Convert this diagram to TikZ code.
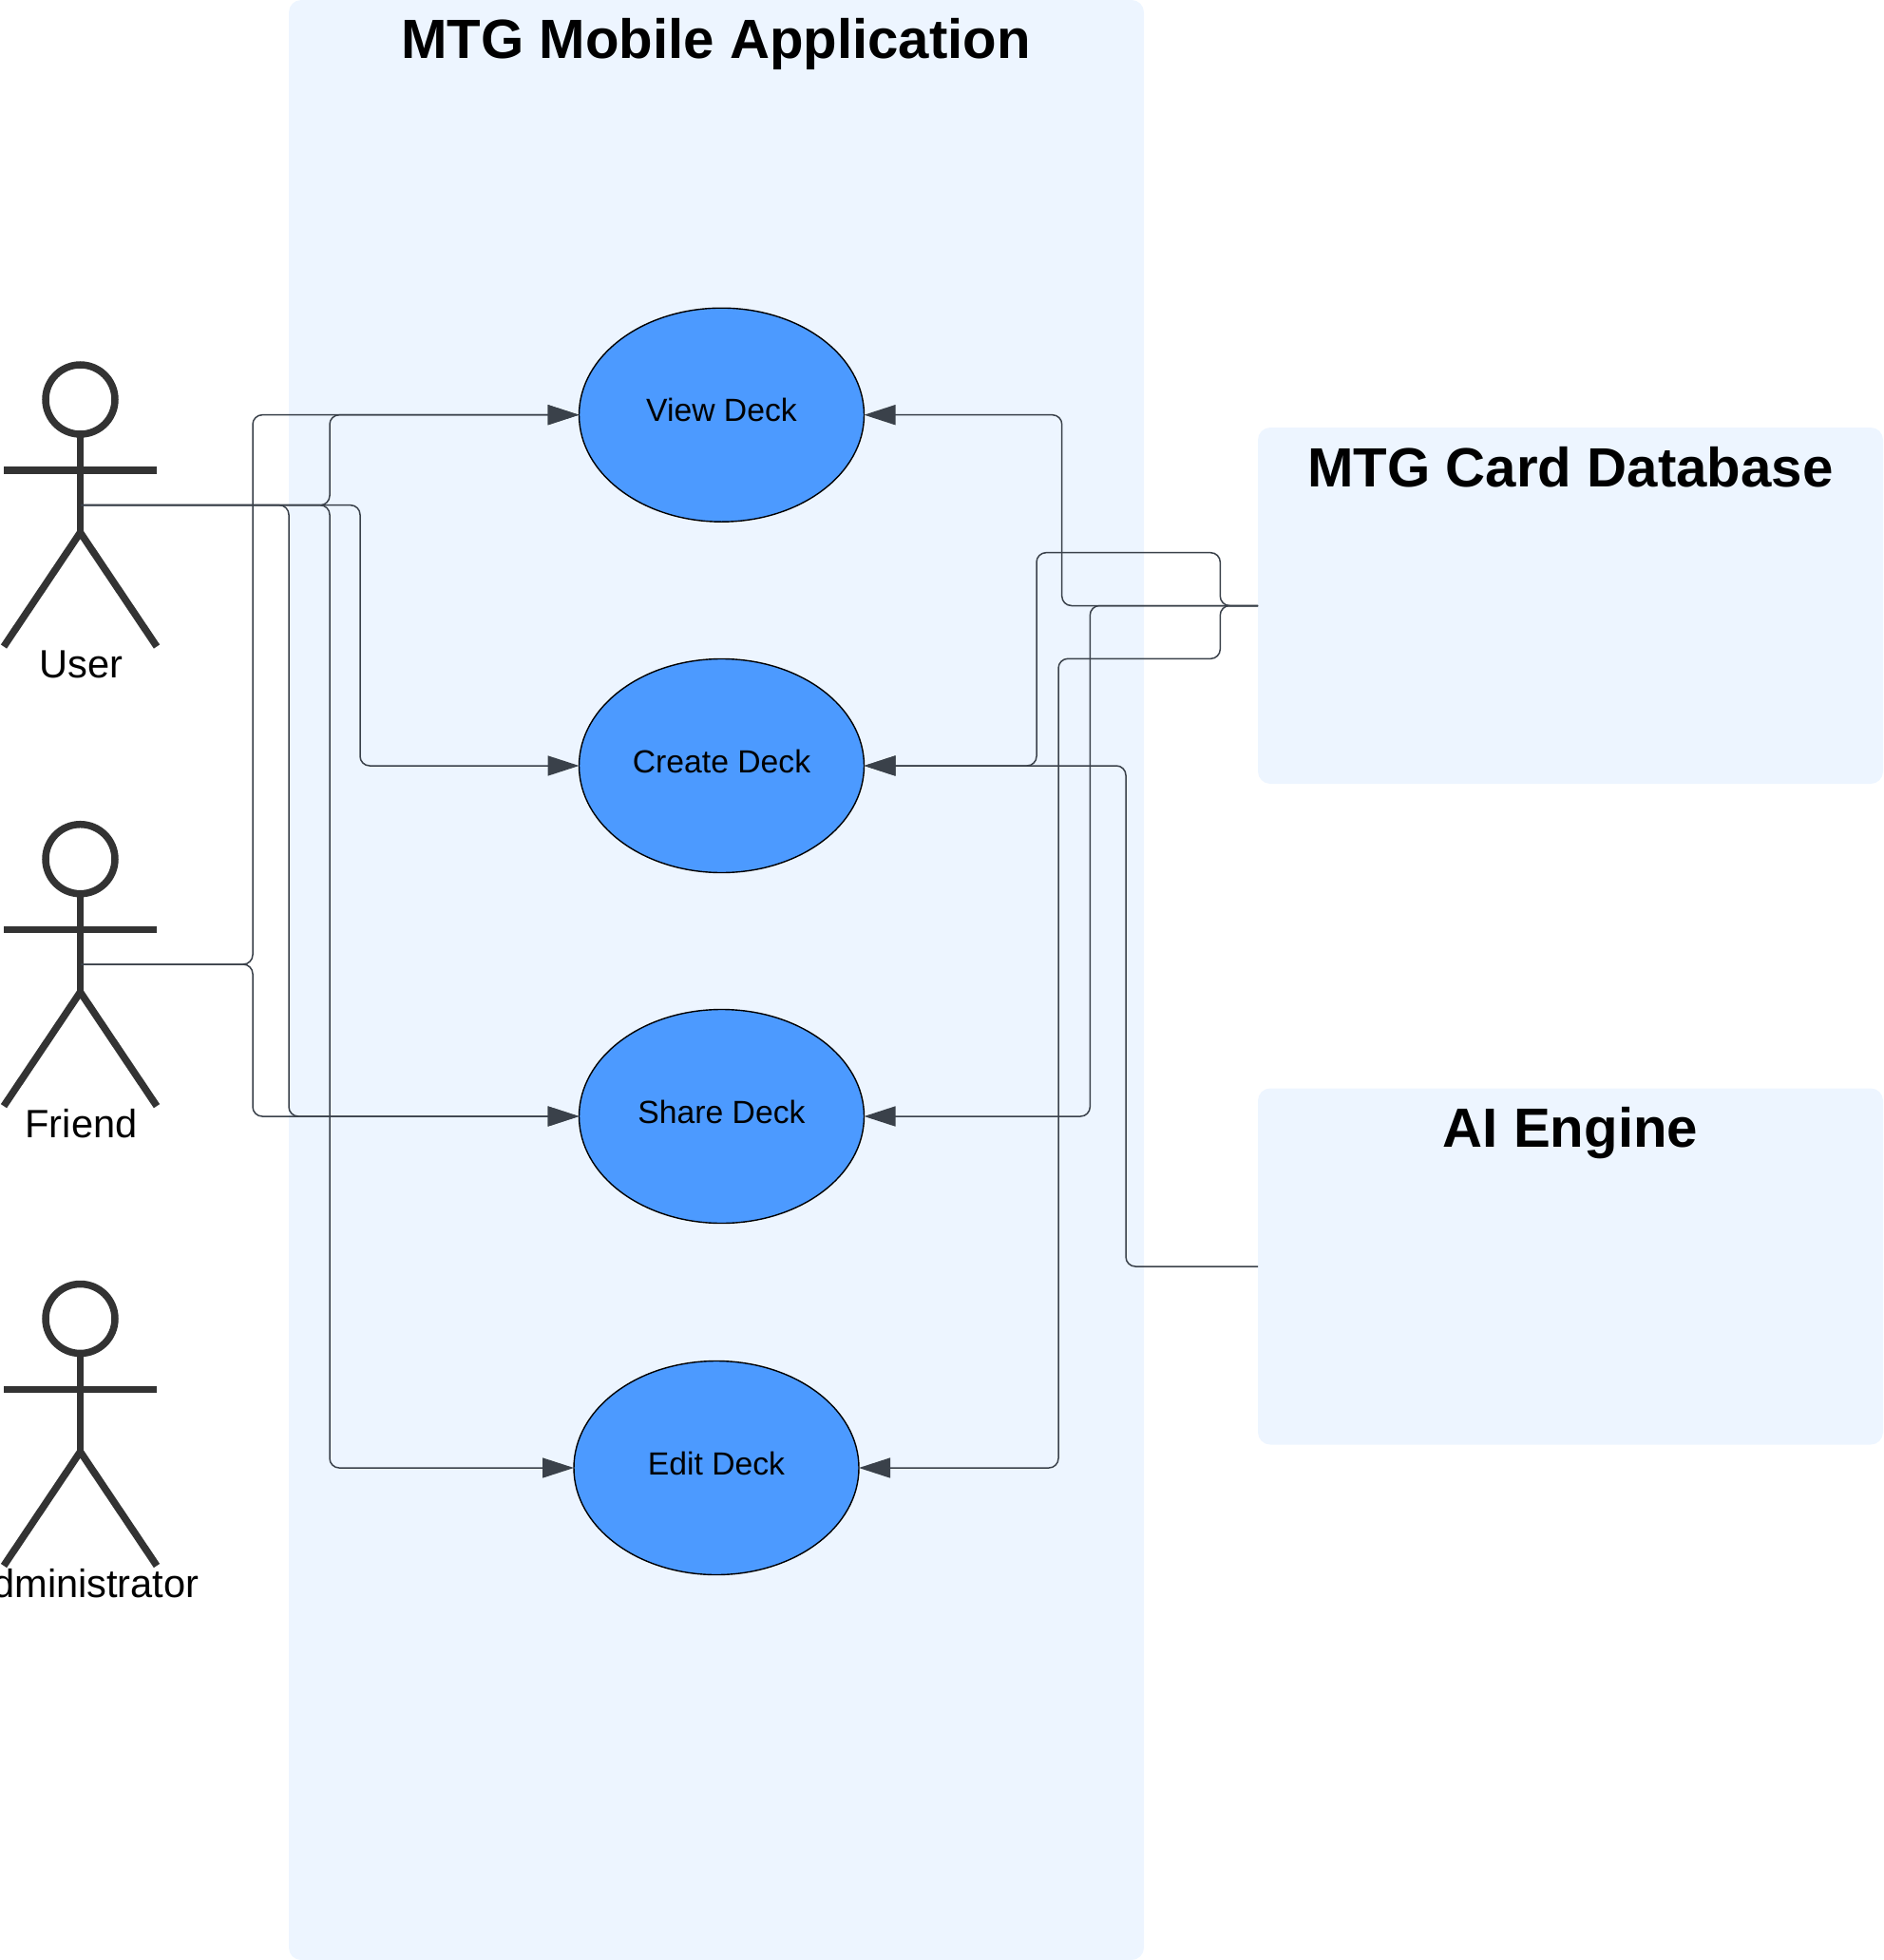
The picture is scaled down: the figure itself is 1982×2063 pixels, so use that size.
\documentclass[tikz,border=0pt]{standalone}
\usepackage{fontspec}
\setmainfont{Liberation Sans}
\usetikzlibrary{shapes.geometric,arrows.meta,calc}
\definecolor{panelblue}{HTML}{EDF5FF}
\definecolor{usecase}{HTML}{4C9AFF}
\definecolor{wirec}{HTML}{3A414A}
\definecolor{actorc}{HTML}{333333}
\tikzset{
  panel/.style={fill=panelblue,draw=none,rounded corners=13pt,inner sep=0pt,outer sep=0pt},
  usecasenode/.style={ellipse,draw=black,line width=1.4pt,fill=usecase,minimum width=300pt,minimum height=225pt,inner sep=0pt,outer sep=0pt,font=\fontsize{33.7}{36}\selectfont,text=black},
  paneltitle/.style={anchor=base,inner sep=0pt,font=\fontsize{58.2}{60}\selectfont\bfseries,text=black},
  actorlabel/.style={anchor=base,inner sep=0pt,font=\fontsize{41.6}{44}\selectfont,text=black},
  wire/.style={draw=wirec,line width=1.5pt,rounded corners=10pt},
  arrowwire/.style={wire,-{Triangle[length=33pt,width=21pt]}},
  actorfig/.pic={
    \draw[actorc,line width=7.5pt] (0,0) circle[x radius=36.5pt,y radius=36.5pt];
    \draw[actorc,line width=7.5pt] (0,36.5) -- (0,142);
    \draw[actorc,line width=7.5pt] (-80.5,74.5) -- (80.5,74.5);
    \draw[actorc,line width=7.5pt,line join=round] (-80.5,260) -- (0,140) -- (80.5,260);
  }
}
\begin{document}
\begin{tikzpicture}[x=1pt,y=-1pt]
\useasboundingbox (0,0) rectangle (1982,2063);
\clip (0,0) rectangle (1982,2063);
% panels
\node[panel,minimum width=900pt,minimum height=2063pt] (app) at (754,1031.5) {};
\node[panel,minimum width=658pt,minimum height=375pt] (db) at (1653,637.5) {};
\node[panel,minimum width=658pt,minimum height=375pt] (ai) at (1653,1333) {};
\node[paneltitle] (apptitle) at (753.5,62) {MTG Mobile Application};
\node[paneltitle] (dbtitle) at (1653,512) {MTG Card Database};
\node[paneltitle] (aititle) at (1653,1207) {AI Engine};
% actors
\pic at (84.5,420.5) {actorfig};
\pic at (84.5,904.2) {actorfig};
\pic at (84.5,1388) {actorfig};
\node[actorlabel] (userlabel) at (85.5,713.5) {User};
\node[actorlabel] (friendlabel) at (85.5,1197.5) {Friend};
\node[actorlabel] (adminlabel) at (87,1681.5) {Administrator};
\coordinate (user) at (85,531.7);
\coordinate (friend) at (85,1015);
% use cases
\node[usecasenode] (view) at (759.5,436.7) {\raisebox{10pt}{View Deck}};
\node[usecasenode] (create) at (759.5,806) {\raisebox{10pt}{Create Deck}};
\node[usecasenode] (share) at (759.5,1175) {\raisebox{10pt}{Share Deck}};
\node[usecasenode] (edit) at (754,1545) {\raisebox{10pt}{Edit Deck}};
% actor connectors
\draw[arrowwire] (friend) -| (266,436.7) -- (view.west);
\draw[arrowwire] (user) -| (347,436.7) -- (view.west);
\draw[arrowwire] (user) -| (379,806) -- (create.west);
\draw[arrowwire] (user) -| (304,1175) -- (share.west);
\draw[arrowwire] (friend) -| (266,1175) -- (share.west);
\draw[arrowwire] (user) -| (347,1545) -- (edit.west);
% system connectors
\draw[arrowwire] (db.west) -| (1117.7,436.7) -- (view.east);
\draw[arrowwire] (db.west) -| (1284.3,581.7) -| (1091,806) -- (create.east);
\draw[arrowwire] (db.west) -| (1147.3,1175) -- (share.east);
\draw[arrowwire] (db.west) -| (1284.3,693.3) -| (1114,1545) -- (edit.east);
\draw[arrowwire] (ai.west) -| (1185,806) -- (create.east);
\end{tikzpicture}
\end{document}
